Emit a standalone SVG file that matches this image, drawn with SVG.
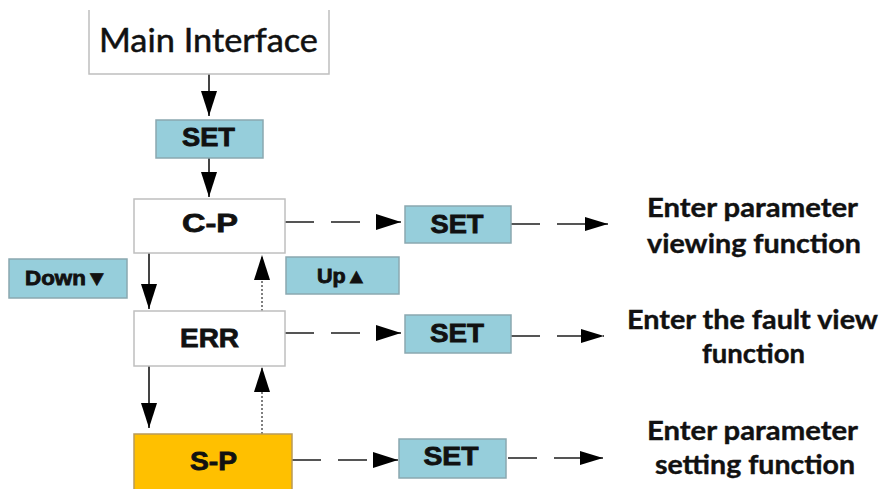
<svg xmlns="http://www.w3.org/2000/svg" width="881" height="489" viewBox="0 0 881 489">
<defs>
<style>
.wbox{fill:#ffffff;stroke:#bfbfbf;stroke-width:1.5}
.bbox{fill:#96cedb;stroke:#8aa8b0;stroke-width:1.5}
.ybox{fill:#ffc000;stroke:#b99a5a;stroke-width:1.5}
.lbl{font-family:"Liberation Sans",Arial,sans-serif;font-weight:bold;fill:#111;stroke:#111;stroke-width:0.8;text-anchor:middle}
.desc{font-family:Lato,"Open Sans",sans-serif;font-weight:bold;font-size:27px;fill:#111;stroke:#111;stroke-width:0.4;text-anchor:middle}
.solid{stroke:#444;stroke-width:2;fill:none}
.dash{stroke:#555;stroke-width:2;fill:none;stroke-dasharray:29 17}
.dot{stroke:#555;stroke-width:1.5;fill:none;stroke-dasharray:2 2}
</style>
<marker id="ah" viewBox="0 0 25 16" refX="25" refY="8" markerWidth="25" markerHeight="16" markerUnits="userSpaceOnUse" orient="auto">
<path d="M0,0 L25,8 L0,16 Z" fill="#000"/>
</marker>
<marker id="ahs" viewBox="0 0 23 14" refX="23" refY="7" markerWidth="23" markerHeight="14" markerUnits="userSpaceOnUse" orient="auto">
<path d="M0,0 L23,7 L0,14 Z" fill="#000"/>
</marker>
</defs>
<rect width="881" height="489" fill="#ffffff"/>

<g id="connectors">
<line class="solid" x1="209" y1="74" x2="209" y2="116" marker-end="url(#ah)"/>
<line class="solid" x1="209" y1="158" x2="209" y2="197" marker-end="url(#ah)"/>
<line class="solid" x1="149" y1="253" x2="149" y2="309" marker-end="url(#ah)"/>
<line class="solid" x1="149" y1="366" x2="149" y2="428" marker-end="url(#ah)"/>
<line class="dot" x1="262" y1="311" x2="262" y2="255" marker-end="url(#ah)"/>
<line class="dot" x1="262" y1="434" x2="262" y2="367" marker-end="url(#ah)"/>
<line class="dash" x1="285" y1="222" x2="401" y2="222" marker-end="url(#ah)"/>
<line class="dash" x1="285" y1="333" x2="401" y2="333" marker-end="url(#ah)"/>
<line class="dash" x1="292" y1="460" x2="398" y2="460" marker-end="url(#ah)"/>
<line class="dash" x1="511" y1="224" x2="608" y2="224" marker-end="url(#ahs)"/>
<line class="dash" x1="511" y1="336" x2="604" y2="336" marker-end="url(#ahs)"/>
<line class="dash" x1="508" y1="458" x2="603" y2="458" marker-end="url(#ahs)"/>
</g>

<g id="main-interface">
<path d="M89,10 V74 H329 V10" fill="#ffffff" stroke="#bfbfbf" stroke-width="1.5"/>
<text x="208.5" y="52" font-family="Lato,'Open Sans',sans-serif" font-size="32" fill="#111" stroke="#111" stroke-width="0.5" text-anchor="middle" textLength="219" lengthAdjust="spacingAndGlyphs">Main Interface</text>
</g>

<g id="set-top">
<rect class="bbox" x="156" y="120" width="107" height="38"/>
<text class="lbl" x="208.5" y="146" font-size="25" textLength="53" lengthAdjust="spacingAndGlyphs">SET</text>
</g>

<g id="cp">
<rect class="wbox" x="134" y="199" width="151" height="54"/>
<text class="lbl" x="210" y="232" font-size="26" textLength="56" lengthAdjust="spacingAndGlyphs">C-P</text>
</g>

<g id="err">
<rect class="wbox" x="134" y="311" width="151" height="55"/>
<text class="lbl" x="209.5" y="347" font-size="26" textLength="59" lengthAdjust="spacingAndGlyphs">ERR</text>
</g>

<g id="sp">
<rect class="ybox" x="134" y="434" width="158" height="60"/>
<text class="lbl" x="213.5" y="470" font-size="26" textLength="47" lengthAdjust="spacingAndGlyphs">S-P</text>
</g>

<g id="down">
<rect class="bbox" x="9" y="259" width="118" height="39"/>
<text class="lbl" x="66.5" y="285" font-size="20" textLength="83" lengthAdjust="spacingAndGlyphs">Down▼</text>
</g>

<g id="up">
<rect class="bbox" x="286" y="257" width="113" height="37"/>
<text class="lbl" x="342" y="283" font-size="20" textLength="50" lengthAdjust="spacingAndGlyphs">Up▲</text>
</g>

<g id="set-cp">
<rect class="bbox" x="405" y="206" width="106" height="37"/>
<text class="lbl" x="457" y="233" font-size="25" textLength="53" lengthAdjust="spacingAndGlyphs">SET</text>
</g>

<g id="set-err">
<rect class="bbox" x="405" y="315" width="106" height="38"/>
<text class="lbl" x="457" y="342" font-size="25" textLength="54" lengthAdjust="spacingAndGlyphs">SET</text>
</g>

<g id="set-sp">
<rect class="bbox" x="399" y="439" width="107" height="39"/>
<text class="lbl" x="451" y="465" font-size="25" textLength="55" lengthAdjust="spacingAndGlyphs">SET</text>
</g>

<g id="desc-view">
<text class="desc" x="752.5" y="217" textLength="211" lengthAdjust="spacingAndGlyphs">Enter parameter</text>
<text class="desc" x="754" y="253" textLength="214" lengthAdjust="spacingAndGlyphs">viewing function</text>
</g>

<g id="desc-fault">
<text class="desc" x="752.5" y="329" textLength="251" lengthAdjust="spacingAndGlyphs">Enter the fault view</text>
<text class="desc" x="753.5" y="363" textLength="103" lengthAdjust="spacingAndGlyphs">function</text>
</g>

<g id="desc-setting">
<text class="desc" x="752.5" y="440" textLength="211" lengthAdjust="spacingAndGlyphs">Enter parameter</text>
<text class="desc" x="755" y="474" textLength="200" lengthAdjust="spacingAndGlyphs">setting function</text>
</g>
</svg>
